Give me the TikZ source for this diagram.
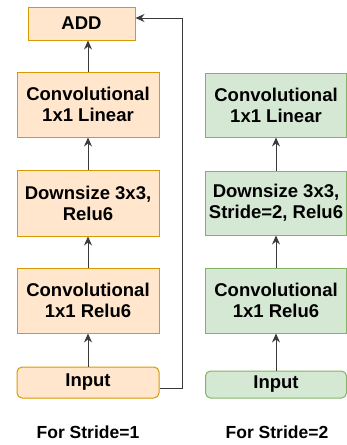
\documentclass[tikz,border=0pt]{standalone}
\usepackage{fontspec}
\setmainfont{Liberation Sans}
\usetikzlibrary{arrows.meta}
\definecolor{ofill}{HTML}{FFE6CC}
\definecolor{odraw}{HTML}{D79B00}
\definecolor{gfill}{HTML}{D5E8D4}
\definecolor{gdraw}{HTML}{82B366}
\definecolor{lcol}{HTML}{3A3A3A}
\tikzset{
  obox/.style={draw=odraw, fill=ofill, line width=1pt, align=center, inner sep=0pt,
    font=\fontsize{18.5}{21}\selectfont\bfseries},
  gbox/.style={draw=gdraw, fill=gfill, line width=1pt, align=center, inner sep=0pt,
    font=\fontsize{18.5}{21}\selectfont\bfseries},
  arr/.style={draw=lcol, line width=1pt, -{Stealth[length=9pt,width=8pt,inset=3pt]}},
  caption/.style={font=\fontsize{17.5}{20}\selectfont\bfseries, inner sep=0pt},
}
\begin{document}
\begin{tikzpicture}[x=1pt,y=-1pt]
\useasboundingbox (0,0) rectangle (347,445);
% left column
\node[obox, minimum width=107pt, minimum height=33pt] (add) at (81.5,23.5) {ADD};
\node[obox, minimum width=142pt, minimum height=65pt] (l1) at (88,104.5) {Convolutional\\1x1 Linear};
\node[obox, minimum width=142pt, minimum height=66pt] (l2) at (88,203) {Downsize 3x3,\\Relu6};
\node[obox, minimum width=142pt, minimum height=65pt] (l3) at (88,300.5) {Convolutional\\1x1 Relu6};
\node[obox, rounded corners=5pt, minimum width=142pt, minimum height=31pt] (inl) at (88,382.5) {Input};
\node[caption] (capl) at (88,432) {For Stride=1};
% right column
\node[gbox, minimum width=141pt, minimum height=64pt] (r1) at (276,105) {Convolutional\\1x1 Linear};
\node[gbox, minimum width=141pt, minimum height=64pt] (r2) at (276,203) {Downsize 3x3,\\Stride=2, Relu6};
\node[gbox, minimum width=141pt, minimum height=65pt] (r3) at (276,300.5) {Convolutional\\1x1 Relu6};
\node[gbox, rounded corners=5pt, minimum width=141pt, minimum height=27pt] (inr) at (276,384.5) {Input};
\node[caption] (capr) at (277,432) {For Stride=2};
% arrows left
\draw[arr] (inl) -- (l3);
\draw[arr] (l3) -- (l2);
\draw[arr] (l2) -- (l1);
\draw[arr] (l1.north) -- (l1.north |- add.south);
\coordinate (sk1) at (182,388);
\coordinate (sk2) at (182,18);
\draw[arr] (inl.east |- sk1) -- (sk1) -- (sk2) -- (add.east |- sk2);
% arrows right
\draw[arr] (inr) -- (r3);
\draw[arr] (r3) -- (r2);
\draw[arr] (r2) -- (r1);
\end{tikzpicture}
\end{document}
